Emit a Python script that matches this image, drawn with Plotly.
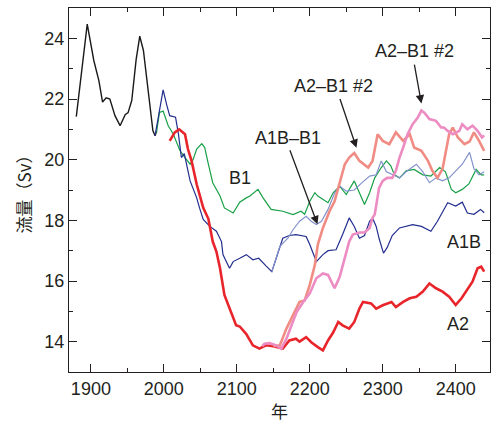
import plotly.graph_objects as go

# 観測（黒線）
hist_year = [1880, 1886, 1895, 1904, 1911, 1916, 1921, 1926, 1933, 1940, 1947, 1951, 1956, 1962, 1967, 1972, 1978, 1985, 1988, 1990]
hist_flow = [21.42, 22.6, 24.47, 23.27, 22.6, 21.9, 22.04, 22.0, 21.45, 21.12, 21.48, 21.55, 21.95, 23.3, 24.07, 23.6, 22.4, 20.95, 20.79, 20.95]

# A1B
a1b_year = [1988, 1994, 1999, 2004, 2008, 2016, 2020, 2024, 2028, 2036, 2045, 2049, 2054, 2063, 2072, 2079, 2081, 2090, 2095, 2104, 2113,
            2122, 2130, 2140, 2148, 2154, 2163, 2172, 2181, 2195, 2200, 2209, 2218, 2225, 2236, 2245, 2254, 2261, 2268, 2275, 2282, 2286,
            2291, 2295, 2301, 2306, 2313, 2323, 2332, 2341, 2353, 2366, 2375, 2389, 2400, 2409, 2416, 2425, 2434, 2439]
a1b_flow = [20.8, 21.6, 22.3, 21.8, 21.45, 21.4, 20.84, 20.07, 20.2, 19.3, 18.74, 18.4, 18.03, 17.8, 17.64, 17.3, 16.87, 16.42, 16.64, 16.75, 16.87,
            16.7, 16.75, 16.5, 16.31, 16.75, 17.41, 17.5, 17.53, 17.47, 17.2, 16.64, 16.87, 17.0, 17.03, 17.53, 18.08, 17.8, 17.41, 17.5, 17.97, 18.08,
            17.8, 17.4, 16.92, 17.1, 17.5, 17.75, 17.8, 17.86, 17.8, 17.64, 17.97, 18.58, 18.47, 18.6, 18.24, 18.2, 18.36, 18.25]

# B1
b1_year = [1990, 1994, 1999, 2006, 2013, 2022, 2029, 2036, 2040, 2045, 2052, 2056, 2061, 2067, 2077, 2083, 2095, 2104, 2113, 2118, 2129,
           2136, 2147, 2163, 2177, 2188, 2193, 2200, 2207, 2211, 2225, 2232, 2241, 2250, 2261, 2268, 2275, 2282, 2289, 2298, 2305,
           2311, 2316, 2323, 2332, 2343, 2355, 2366, 2378, 2386, 2394, 2400, 2409, 2418, 2428, 2435, 2439]
b1_flow = [20.9, 21.56, 21.6, 21.12, 20.84, 20.3, 20.07, 19.85, 20.0, 20.35, 20.53, 20.4, 19.85, 19.24, 18.8, 18.41, 18.24, 18.6, 18.74, 18.8, 19.02,
           18.74, 18.36, 18.3, 18.19, 18.3, 18.2, 18.63, 18.91, 18.8, 18.58, 18.91, 19.13, 18.85, 19.3, 18.91, 18.52, 18.91, 19.4, 19.74, 19.96,
           19.8, 19.5, 19.4, 19.63, 19.68, 19.5, 19.46, 19.74, 19.6, 19.02, 18.91, 19.02, 19.2, 19.68, 19.5, 19.5]

# A1B-B1
a1bb1_year = [2148, 2154, 2159, 2170, 2177, 2186, 2195, 2202, 2209, 2216, 2225, 2234, 2241, 2250, 2261, 2272, 2282, 2291, 2298, 2305,
              2314, 2323, 2332, 2346, 2355, 2364, 2373, 2382, 2391, 2400, 2409, 2419, 2425, 2432, 2439]
a1bb1_flow = [16.31, 16.75, 17.14, 17.41, 17.69, 17.97, 18.13, 17.97, 17.86, 17.97, 18.36, 18.9, 19.13, 18.96, 19.0, 19.25, 19.46, 19.5, 19.96, 19.6,
              19.5, 19.4, 19.6, 19.85, 19.6, 19.24, 19.4, 19.3, 19.4, 19.63, 19.85, 20.24, 19.7, 19.5, 19.6]

# A2
a2_year = [2008, 2015, 2021, 2029, 2033, 2038, 2045, 2049, 2054, 2061, 2067, 2072, 2077, 2083, 2093, 2099, 2104, 2113, 2122, 2131, 2140,
           2150, 2163, 2172, 2181, 2186, 2195, 2202, 2211, 2218, 2225, 2232, 2239, 2245, 2254, 2261, 2268, 2273, 2284, 2291, 2300,
           2312, 2318, 2328, 2337, 2346, 2355, 2364, 2373, 2382, 2391, 2400, 2408, 2414, 2423, 2430, 2435, 2439]
a2_flow = [20.62, 20.9, 21.0, 20.84, 20.35, 19.96, 19.19, 18.86, 18.41, 18.05, 17.3, 16.97, 16.42, 15.54, 14.87, 14.54, 14.5, 14.25, 13.88, 13.77, 13.88,
           13.85, 13.77, 14.04, 14.1, 14.0, 14.15, 13.98, 13.82, 13.71, 14.04, 14.3, 14.65, 14.54, 14.43, 14.65, 15.09, 15.31, 15.26, 15.09, 15.2,
           15.31, 15.14, 15.31, 15.43, 15.48, 15.65, 15.92, 15.76, 15.65, 15.48, 15.21, 15.43, 15.65, 15.98, 16.42, 16.47, 16.31]

# A2-B1 #2（サーモン）
a2b1a_year = [2150, 2159, 2168, 2179, 2186, 2193, 2200, 2207, 2211, 2218, 2227, 2234, 2241, 2248, 2254, 2261, 2268, 2280, 2286, 2293,
              2300, 2309, 2318, 2328, 2337, 2343, 2353, 2362, 2368, 2375, 2382, 2387, 2391, 2396, 2403, 2412, 2419, 2425, 2432, 2439]
a2b1a_flow = [13.85, 13.88, 14.43, 14.98, 15.31, 15.36, 15.87, 16.53, 17.2, 17.75, 18.3, 18.63, 19.24, 19.85, 20.07, 20.22, 19.96, 19.74, 19.96, 20.84,
              20.62, 20.51, 20.9, 20.62, 20.84, 20.4, 20.29, 19.96, 19.63, 19.4, 19.7, 20.29, 20.84, 21.06, 20.73, 20.51, 20.6, 20.9, 20.62, 20.29]

# A2-B1 #2（ピンク）
a2b1b_year = [2135, 2138, 2145, 2154, 2161, 2168, 2175, 2182, 2191, 2200, 2209, 2218, 2225, 2234, 2241, 2248, 2254, 2259, 2268, 2275,
              2282, 2286, 2289, 2295, 2300, 2306, 2313, 2318, 2323, 2328, 2334, 2341, 2348, 2353, 2357, 2364, 2373, 2380, 2384, 2389,
              2396, 2405, 2409, 2416, 2423, 2430, 2436, 2439]
a2b1b_flow = [13.85, 13.93, 13.95, 13.88, 13.77, 14.1, 14.54, 14.98, 15.31, 15.59, 16.09, 16.25, 16.2, 15.76, 16.14, 16.75, 17.3, 17.53, 17.6, 17.6,
              17.75, 18.08, 18.19, 19.07, 19.3, 19.4, 19.4, 19.63, 20.07, 20.4, 20.84, 21.17, 21.39, 21.62, 21.55, 21.34, 21.28, 21.06, 21.06, 20.95,
              20.84, 20.95, 21.17, 21.0, 21.12, 20.95, 20.73, 20.8]

FONT = "Liberation Sans, Arial, sans-serif"
INK = "#231f20"

fig = go.Figure()

series = [
    (hist_year, hist_flow, "#1a1a1a", 1.4),
    (b1_year, b1_flow, "#17a046", 1.2),
    (a1b_year, a1b_flow, "#232e8e", 1.2),
    (a1bb1_year, a1bb1_flow, "#8492cc", 1.2),
    (a2_year, a2_flow, "#e8252b", 2.6),
    (a2b1a_year, a2b1a_flow, "#f08c84", 2.6),
    (a2b1b_year, a2b1b_flow, "#ec8cc2", 2.6),
]
for xs, ys, col, w in series:
    fig.add_trace(go.Scatter(x=xs, y=ys, mode="lines", line=dict(color=col, width=w),
                             showlegend=False, hoverinfo="skip"))

# ラベル
labels = [
    ("B1", 2104, 19.4),
    ("A1B", 2411, 17.3),
    ("A2", 2403, 14.57),
    ("A1B–B1", 2170, 20.7),
    ("A2–B1 #2", 2233, 22.42),
    ("A2–B1 #2", 2344, 23.58),
]
for txt, x, y in labels:
    fig.add_annotation(x=x, y=y, text=txt, showarrow=False,
                       font=dict(family=FONT, size=18, color=INK))

# 矢印
arrows = [
    (2210.6, 17.87, 2172, 20.36),
    (2264, 20.39, 2240.7, 22.05),
    (2353, 21.85, 2343, 23.18),
]
for x, y, ax, ay in arrows:
    fig.add_annotation(x=x, y=y, ax=ax, ay=ay, xref="x", yref="y", axref="x", ayref="y",
                       text="", showarrow=True, arrowhead=2, arrowsize=1.3, arrowwidth=1.3,
                       arrowcolor=INK)

axis_common = dict(showline=True, linecolor=INK, linewidth=1.3, mirror="ticks",
                   ticks="inside", ticklen=8, tickwidth=1.2, tickcolor=INK,
                   showgrid=False, zeroline=False,
                   tickfont=dict(family=FONT, size=18, color=INK))

fig.update_xaxes(range=[1870, 2447], tickvals=[1900, 2000, 2100, 2200, 2300, 2400],
                 minor=dict(dtick=50, tick0=1850, ticks="inside", ticklen=4, tickcolor=INK),
                 title=dict(text="年", font=dict(family="Noto Sans CJK JP", size=17, color=INK), standoff=8),
                 **axis_common)
fig.update_yaxes(range=[13, 25], tickvals=[14, 16, 18, 20, 22, 24],
                 minor=dict(dtick=1, tick0=13, ticks="inside", ticklen=4, tickcolor=INK),
                 title=dict(text="流量（Sv）", font=dict(family="Noto Sans CJK JP", size=17, color=INK), standoff=8),
                 **axis_common)

fig.update_layout(width=492, height=425, margin=dict(l=69, r=2, t=8, b=53),
                  plot_bgcolor="white", paper_bgcolor="white")

fig.write_html("out.html", config={"displayModeBar": False},
               post_script="document.body.style.margin='0';")
